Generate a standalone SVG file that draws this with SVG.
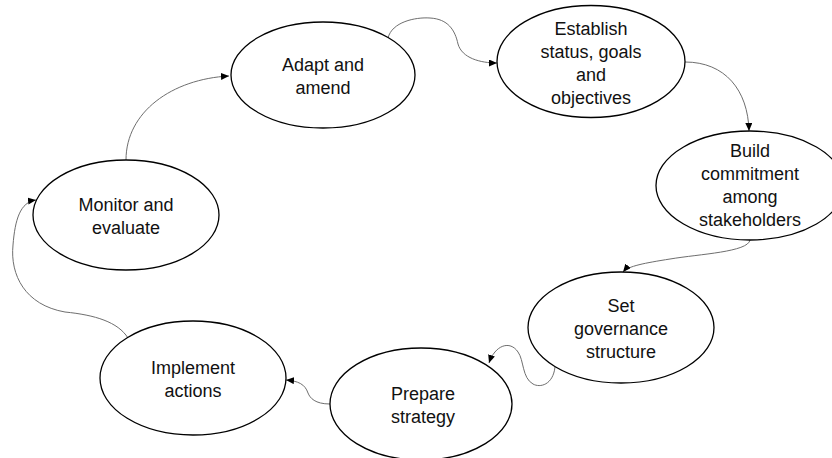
<svg xmlns="http://www.w3.org/2000/svg" width="832" height="458" viewBox="0 0 832 458">
<style>
.n ellipse{fill:#fff;stroke:#000;stroke-width:1.3}
.n text{font-family:"Liberation Sans",Arial,sans-serif;font-size:18px;fill:#111;text-anchor:middle}
.c path{fill:none;stroke:#6e6e6e;stroke-width:1;marker-end:url(#ah)}
</style>
<defs>
<marker id="ah" markerUnits="userSpaceOnUse" markerWidth="9" markerHeight="8" refX="8" refY="3.5" orient="auto">
<path d="M0,0 L8,3.5 L0,7 z" fill="#000"/>
</marker>
</defs>
<rect width="832" height="458" fill="#fff"/>
<g class="c" id="connectors">
<path d="M126,160 C126,112 172,79 229,76"/>
<path d="M388,38 C392,22 415,17 430,18 C448,19 455,30 458,44 C462,58 480,63 497,63"/>
<path d="M685,62 C725,62 748,90 749,131"/>
<path d="M750,240 C748,252 700,254 670,259 C645,263 628,266 623,272"/>
<path d="M555,367 C553,385 540,388 533,384 C522,378 524,360 518,352 C510,340 495,345 489,363"/>
<path d="M330,404 C315,404 310,398 308,393 C305,384 298,381 286,380"/>
<path d="M128,338 C118,322 95,315 65,312 C25,305 10,275 13,245 C15,220 20,202 36,200"/>
</g>
<g class="n" id="adapt">
<ellipse cx="323" cy="75" rx="92" ry="53"/>
<text x="323" y="71">Adapt and</text>
<text x="323" y="94">amend</text>
</g>
<g class="n" id="establish">
<ellipse cx="591" cy="61.5" rx="94" ry="56"/>
<text x="591" y="35">Establish</text>
<text x="591" y="58">status, goals</text>
<text x="591" y="81">and</text>
<text x="591" y="104">objectives</text>
</g>
<g class="n" id="build">
<ellipse cx="750" cy="185.5" rx="94" ry="54.5"/>
<text x="750" y="157">Build</text>
<text x="750" y="180">commitment</text>
<text x="750" y="203">among</text>
<text x="750" y="226">stakeholders</text>
</g>
<g class="n" id="governance">
<ellipse cx="621" cy="327.5" rx="93" ry="55.5"/>
<text x="621" y="312">Set</text>
<text x="621" y="335">governance</text>
<text x="621" y="358">structure</text>
</g>
<g class="n" id="prepare">
<ellipse cx="421" cy="404" rx="91" ry="56"/>
<text x="423" y="400">Prepare</text>
<text x="423" y="423">strategy</text>
</g>
<g class="n" id="implement">
<ellipse cx="193" cy="378" rx="93" ry="57"/>
<text x="193" y="374">Implement</text>
<text x="193" y="397">actions</text>
</g>
<g class="n" id="monitor">
<ellipse cx="126" cy="215" rx="93" ry="55"/>
<text x="126" y="211">Monitor and</text>
<text x="126" y="234">evaluate</text>
</g>
</svg>
